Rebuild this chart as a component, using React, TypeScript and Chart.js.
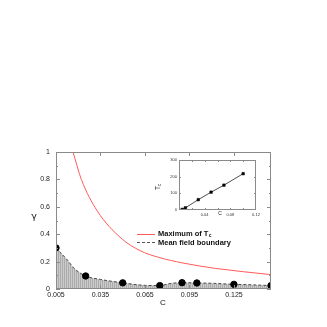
import React, { useEffect, useRef } from 'react';
import { Chart, registerables } from 'chart.js';
Chart.register(...registerables);

// Main panel data
const simC = [0.005, 0.025, 0.05, 0.075, 0.09, 0.1, 0.125, 0.15];
const simGamma = [0.3, 0.095, 0.045, 0.025, 0.046, 0.044, 0.034, 0.025];
const boundaryC = [0.005, 0.0128, 0.0172, 0.025, 0.035, 0.05, 0.0617, 0.075, 0.082, 0.09, 0.1, 0.112, 0.125, 0.138, 0.15];
const boundaryGamma = [0.3, 0.21, 0.151, 0.095, 0.07, 0.045, 0.029, 0.025, 0.04, 0.046, 0.044, 0.041, 0.034, 0.03, 0.025];
const maxTcC = [0.0165, 0.0221, 0.0328, 0.049, 0.0617, 0.0739, 0.0905, 0.1128, 0.15];
const maxTcGamma = [1.0, 0.8, 0.57, 0.37, 0.28, 0.232, 0.19, 0.15, 0.105];
const mainXTicks = [0.005, 0.035, 0.065, 0.095, 0.125];
const mainXLabels = ['0.005', '0.035', '0.065', '0.095', '0.125'];
const mainYTicks = [0, 0.2, 0.4, 0.6, 0.8, 1];
const mainYLabels = ['0', '0.2', '0.4', '0.6', '0.8', '1'];
const mainYMinor = [0.1, 0.3, 0.5, 0.7, 0.9];

// Inset data
const insetC = [0.005, 0.01, 0.03, 0.05, 0.07, 0.1];
const insetTc = [4, 13, 62, 107, 149, 218];
const insetXTicks = [0.04, 0.08, 0.12];
const insetXLabels = ['0.04', '0.08', '0.12'];
const insetYTicks = [0, 100, 200, 300];
const insetYLabels = ['0', '100', '200', '300'];

const FONT = '"Liberation Sans", Arial, sans-serif';
const FRAME = '#8a8a8a';

function framePlugin(id: string, xMaj: number[], yMaj: number[], yMin: number[], L: number, l: number) {
  return {
    id,
    afterDatasetsDraw(chart: any) {
      const { ctx, chartArea: a, scales } = chart;
      ctx.save();
      ctx.strokeStyle = FRAME;
      ctx.lineWidth = 1;
      ctx.strokeRect(a.left + 0.5, a.top + 0.5, a.right - a.left - 1, a.bottom - a.top - 1);
      ctx.beginPath();
      xMaj.forEach((v) => {
        const x = Math.round(scales.x.getPixelForValue(v)) + 0.5;
        ctx.moveTo(x, a.bottom); ctx.lineTo(x, a.bottom - L);
        ctx.moveTo(x, a.top); ctx.lineTo(x, a.top + L);
      });
      const yTick = (v: number, len: number) => {
        const y = Math.round(scales.y.getPixelForValue(v)) + 0.5;
        ctx.moveTo(a.left, y); ctx.lineTo(a.left + len, y);
        ctx.moveTo(a.right, y); ctx.lineTo(a.right - len, y);
      };
      yMaj.forEach((v) => yTick(v, L));
      yMin.forEach((v) => yTick(v, l));
      ctx.stroke();
      ctx.restore();
    },
  };
}

export default function App() {
  const mainRef = useRef<HTMLCanvasElement>(null);
  const insetRef = useRef<HTMLCanvasElement>(null);

  useEffect(() => {
    const pc = document.createElement('canvas');
    pc.width = 2; pc.height = 2;
    const pctx = pc.getContext('2d')!;
    pctx.fillStyle = '#cbcbcb'; pctx.fillRect(0, 0, 2, 2);
    pctx.fillStyle = '#acacac'; pctx.fillRect(0, 0, 1, 2);
    const pattern = mainRef.current!.getContext('2d')!.createPattern(pc, 'repeat');

    const mainTexts = {
      id: 'mainTexts',
      afterDraw(chart: any) {
        const ctx = chart.ctx;
        ctx.save();
        ctx.fillStyle = '#111';
        ctx.textAlign = 'center';
        ctx.textBaseline = 'middle';
        ctx.font = `9.5px "DejaVu Sans", sans-serif`;
        ctx.fillText('γ', 34, 217);
        ctx.font = `8px ${FONT}`;
        ctx.fillText('C', 163, 303);
        // legend
        ctx.lineWidth = 1;
        ctx.strokeStyle = '#ff5a5a';
        ctx.beginPath(); ctx.moveTo(137, 234.5); ctx.lineTo(155, 234.5); ctx.stroke();
        ctx.strokeStyle = '#555';
        ctx.setLineDash([3, 2]);
        ctx.beginPath(); ctx.moveTo(137, 242.5); ctx.lineTo(155, 242.5); ctx.stroke();
        ctx.setLineDash([]);
        ctx.textAlign = 'left';
        ctx.font = `bold 7.5px ${FONT}`;
        const t1 = 'Maximum of T';
        ctx.fillText(t1, 158, 234);
        const w1 = ctx.measureText(t1).width;
        ctx.font = `bold 5px ${FONT}`;
        ctx.fillText('c', 158 + w1 + 0.3, 236);
        ctx.font = `bold 7.5px ${FONT}`;
        ctx.fillText('Mean field boundary', 158, 242.5);
        ctx.restore();
      },
    };

    const main = new Chart(mainRef.current!, {
      type: 'scatter',
      data: {
        datasets: [
          {
            data: simC.map((c, i) => ({ x: c, y: simGamma[i] })),
            showLine: false,
            pointRadius: 3.2,
            pointBackgroundColor: '#000',
            pointBorderColor: '#000',
            order: 0,
          },
          {
            data: maxTcC.map((c, i) => ({ x: c, y: maxTcGamma[i] })),
            showLine: true,
            borderColor: '#ff5a5a',
            borderWidth: 1,
            pointRadius: 0,
            cubicInterpolationMode: 'monotone',
            fill: false,
            order: 1,
          },
          {
            data: boundaryC.map((c, i) => ({ x: c, y: boundaryGamma[i] })),
            showLine: true,
            borderColor: '#444',
            borderWidth: 1,
            borderDash: [3, 2],
            pointRadius: 0,
            cubicInterpolationMode: 'monotone',
            fill: 'origin',
            backgroundColor: pattern as any,
            order: 2,
          },
        ],
      },
      options: {
        responsive: false,
        animation: false,
        layout: { padding: { left: 0, top: 152, right: 56, bottom: 0 } },
        plugins: { legend: { display: false }, tooltip: { enabled: false } },
        scales: {
          x: {
            type: 'linear',
            min: 0.005,
            max: 0.15,
            afterFit: (s: any) => { s.height = 38; },
            afterBuildTicks: (s: any) => { s.ticks = mainXTicks.map((v) => ({ value: v })); },
            ticks: {
              autoSkip: false,
              maxRotation: 0,
              padding: 2,
              color: '#222',
              font: { family: FONT, size: 7 },
              callback: (v: any) => mainXLabels[mainXTicks.indexOf(v)] ?? '',
            },
            grid: { display: false, drawTicks: false },
            border: { display: false },
          },
          y: {
            type: 'linear',
            min: 0,
            max: 1,
            afterFit: (s: any) => { s.width = 56; },
            afterBuildTicks: (s: any) => { s.ticks = mainYTicks.map((v) => ({ value: v })); },
            ticks: {
              autoSkip: false,
              padding: 6,
              color: '#222',
              font: { family: FONT, size: 7 },
              callback: (v: any) => mainYLabels[mainYTicks.indexOf(v)] ?? '',
            },
            grid: { display: false, drawTicks: false },
            border: { display: false },
          },
        },
      },
      plugins: [framePlugin('mainFrame', mainXTicks, mainYTicks, mainYMinor, 4, 2), mainTexts],
    } as any);

    const insetTexts = {
      id: 'insetTexts',
      afterDraw(chart: any) {
        const ctx = chart.ctx;
        ctx.save();
        ctx.fillStyle = '#111';
        ctx.textBaseline = 'middle';
        ctx.textAlign = 'center';
        ctx.font = `5px ${FONT}`;
        ctx.fillText('C', 80, 64);
        ctx.translate(18, 37);
        ctx.rotate(-Math.PI / 2);
        ctx.font = `6.5px ${FONT}`;
        ctx.textAlign = 'left';
        ctx.fillText('T', -3, 0);
        const w = ctx.measureText('T').width;
        ctx.font = `4.5px ${FONT}`;
        ctx.fillText('c', -3 + w, 2);
        ctx.restore();
      },
    };

    const inset = new Chart(insetRef.current!, {
      type: 'scatter',
      data: {
        datasets: [
          {
            data: insetC.map((c, i) => ({ x: c, y: insetTc[i] })),
            showLine: true,
            borderColor: '#222',
            borderWidth: 0.8,
            pointStyle: 'rect',
            pointRadius: 1.8,
            pointBackgroundColor: '#000',
            pointBorderColor: '#000',
            pointBorderWidth: 0.5,
            tension: 0,
          },
        ],
      },
      options: {
        responsive: false,
        animation: false,
        layout: { padding: { left: 0, top: 10, right: 14, bottom: 0 } },
        plugins: { legend: { display: false }, tooltip: { enabled: false } },
        scales: {
          x: {
            type: 'linear',
            min: 0,
            max: 0.12,
            afterFit: (s: any) => { s.height = 20; },
            afterBuildTicks: (s: any) => { s.ticks = insetXTicks.map((v) => ({ value: v })); },
            ticks: {
              autoSkip: false,
              maxRotation: 0,
              padding: 2,
              color: '#333',
              font: { family: FONT, size: 4 },
              callback: (v: any) => insetXLabels[insetXTicks.indexOf(v)] ?? '',
            },
            grid: { display: false, drawTicks: false },
            border: { display: false },
          },
          y: {
            type: 'linear',
            min: 0,
            max: 300,
            afterFit: (s: any) => { s.width = 39; },
            afterBuildTicks: (s: any) => { s.ticks = insetYTicks.map((v) => ({ value: v })); },
            ticks: {
              autoSkip: false,
              padding: 2,
              color: '#333',
              font: { family: FONT, size: 4 },
              callback: (v: any) => insetYLabels[insetYTicks.indexOf(v)] ?? '',
            },
            grid: { display: false, drawTicks: false },
            border: { display: false },
          },
        },
      },
      plugins: [framePlugin('insetFrame', [0.02, 0.04, 0.06, 0.08, 0.1], [100, 200], [50, 150, 250], 2, 1), insetTexts],
    } as any);

    return () => {
      main.destroy();
      inset.destroy();
    };
  }, []);

  return (
    <div style={{ position: 'fixed', left: 0, top: 0, width: 327, height: 327, background: '#fff' }}>
      <canvas ref={mainRef} width={327} height={327} style={{ position: 'absolute', left: 0, top: 0 }} />
      <canvas ref={insetRef} width={130} height={80} style={{ position: 'absolute', left: 140, top: 150 }} />
    </div>
  );
}
